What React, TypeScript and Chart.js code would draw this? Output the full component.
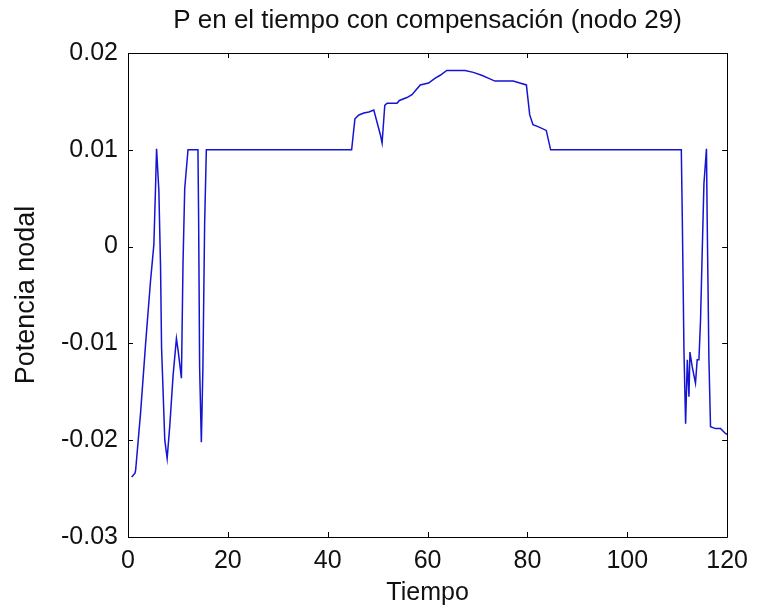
import React, { useEffect, useRef } from "react";
import { Chart, registerables } from "chart.js";

Chart.register(...registerables);

const chartTitle = "P en el tiempo con compensación (nodo 29)";
const xAxisTitle = "Tiempo";
const yAxisTitle = "Potencia nodal";

const xTickValues = [0, 20, 40, 60, 80, 100, 120];
const yTickValues = [-0.03, -0.02, -0.01, 0, 0.01, 0.02];

const timeValues = [
  0.74, 1.4, 1.53, 2.53, 3.53, 4.52, 5.18, 5.52, 5.72, 6.18, 6.52, 6.72, 7.37, 7.84,
  8.37, 9.03, 9.7, 10.03, 10.7, 11.02, 11.36, 12.02, 14.01, 14.15, 14.35, 14.69, 15.0,
  15.35, 15.69,
  44.79, 45.45, 46.25, 47.24, 48.24, 49.23, 50.57, 50.89, 51.43, 51.88, 53.88, 54.36,
  55.87, 56.87, 58.54, 60.2, 61.53, 62.53, 63.84, 67.51, 69.17, 70.82, 72.15, 73.49,
  77.14, 78.47, 79.79, 80.46, 81.12, 82.12, 83.77, 84.65,
  110.82, 111.02, 111.36, 111.68, 112.02, 112.35, 112.55, 113.0, 113.66, 114.0, 114.35,
  114.67, 115.01, 115.35, 115.86, 116.0, 116.35, 116.67, 117.67, 118.67, 119.66, 120
];

const powerValues = [
  -0.0238, -0.0234, -0.0231, -0.0171, -0.01, -0.0035, 0.0002, 0.0062, 0.0101, 0.0058,
  -0.0021, -0.0104, -0.02, -0.0219, -0.0185, -0.0133, -0.0095, -0.0107, -0.0136, -0.0017,
  0.006, 0.01, 0.01, 0.0026, -0.0126, -0.0202, -0.0126, 0.0024, 0.01,
  0.01, 0.0132, 0.0136, 0.0138, 0.0139, 0.0141, 0.0115, 0.0107, 0.0146, 0.0148, 0.0148,
  0.0151, 0.0154, 0.0157, 0.0167, 0.0169, 0.0174, 0.0177, 0.0182, 0.0182, 0.018, 0.0177,
  0.0174, 0.0171, 0.0171, 0.0169, 0.0167, 0.0136, 0.0126, 0.0124, 0.012, 0.01,
  0.01, 0.0029, -0.011, -0.0183, -0.0117, -0.0155, -0.0109, -0.0124, -0.0141, -0.0117,
  -0.0117, -0.0076, -0.0005, 0.0065, 0.0101, 0.0029, -0.0116, -0.0186, -0.0188, -0.0188,
  -0.0193, -0.0194
];

const FONT = "'Liberation Sans', Arial, sans-serif";

const framePlugin = {
  id: "matlabFrame",
  afterDraw(chart: any) {
    const { ctx, chartArea } = chart;
    const { left, right, top, bottom } = chartArea;
    const xs = chart.scales.x;
    const ys = chart.scales.y;
    const tl = 5;
    ctx.save();
    ctx.strokeStyle = "#000";
    ctx.lineWidth = 1;
    ctx.beginPath();
    ctx.rect(Math.round(left) + 0.5, Math.round(top) + 0.5, Math.round(right - left), Math.round(bottom - top));
    for (const v of xTickValues) {
      const px = Math.round(xs.getPixelForValue(v)) + 0.5;
      ctx.moveTo(px, bottom);
      ctx.lineTo(px, bottom - tl);
      ctx.moveTo(px, top);
      ctx.lineTo(px, top + tl);
    }
    for (const v of yTickValues) {
      const py = Math.round(ys.getPixelForValue(v)) + 0.5;
      ctx.moveTo(left, py);
      ctx.lineTo(left + tl, py);
      ctx.moveTo(right, py);
      ctx.lineTo(right - tl, py);
    }
    ctx.stroke();
    ctx.fillStyle = "#111";
    ctx.font = `26px ${FONT}`;
    ctx.textAlign = "center";
    ctx.textBaseline = "alphabetic";
    ctx.fillText(chartTitle, (left + right) / 2, 28);
    ctx.restore();
  },
};

export default function App() {
  const canvasRef = useRef<HTMLCanvasElement | null>(null);

  useEffect(() => {
    const canvas = canvasRef.current;
    if (!canvas) return;
    const points = timeValues.map((t, i) => ({ x: t, y: powerValues[i] }));
    const chart = new Chart(canvas, {
      type: "line",
      data: {
        datasets: [
          {
            data: points,
            borderColor: "rgb(20,20,210)",
            borderWidth: 1.5,
            pointRadius: 0,
            tension: 0,
            fill: false,
          },
        ],
      },
      options: {
        animation: false,
        responsive: false,
        maintainAspectRatio: false,
        devicePixelRatio: 1,
        layout: { padding: { top: 53, right: 27, bottom: 0, left: 0 } },
        plugins: {
          legend: { display: false },
          tooltip: { enabled: false },
          title: { display: false },
        },
        scales: {
          x: {
            type: "linear",
            min: 0,
            max: 120,
            afterBuildTicks: (scale: any) => {
              scale.ticks = xTickValues.map((v) => ({ value: v }));
            },
            afterFit: (scale: any) => {
              scale.height = 79;
            },
            grid: { display: false, drawTicks: false },
            border: { display: false },
            ticks: {
              padding: 9,
              color: "#111",
              font: { family: FONT, size: 25 },
              maxRotation: 0,
              autoSkip: false,
              callback: (v: any) => String(v),
            },
            title: {
              display: true,
              text: xAxisTitle,
              color: "#111",
              font: { family: FONT, size: 25 },
              padding: { top: 0, bottom: 8 },
            },
          },
          y: {
            type: "linear",
            min: -0.03,
            max: 0.02,
            afterBuildTicks: (scale: any) => {
              scale.ticks = yTickValues.map((v) => ({ value: v }));
            },
            afterFit: (scale: any) => {
              scale.width = 128;
            },
            grid: { display: false, drawTicks: false },
            border: { display: false },
            ticks: {
              padding: 10,
              color: "#111",
              font: { family: FONT, size: 25 },
              autoSkip: false,
              callback: (v: any) => String(Math.round(Number(v) * 100) / 100),
            },
            title: {
              display: true,
              text: yAxisTitle,
              color: "#111",
              font: { family: FONT, size: 27 },
              padding: { top: 10, bottom: 0 },
            },
          },
        },
      },
      plugins: [framePlugin],
    });
    return () => chart.destroy();
  }, []);

  return (
    <div style={{ position: "fixed", left: 0, top: 0, width: 757, height: 616, background: "#fff" }}>
      <canvas ref={canvasRef} width={757} height={616} style={{ width: 757, height: 616, display: "block" }} />
    </div>
  );
}
